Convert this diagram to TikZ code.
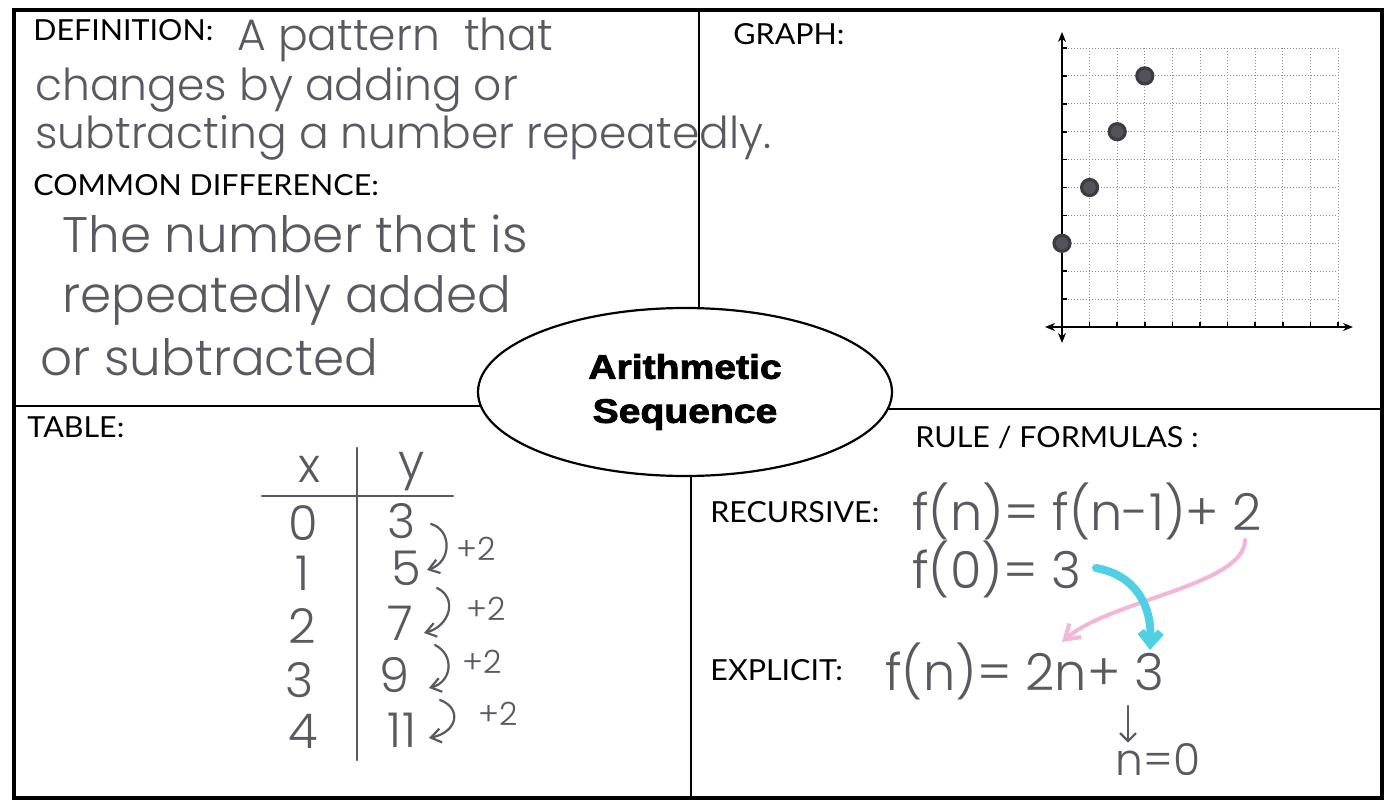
\documentclass[tikz,border=0pt]{standalone}
\usepackage{fontspec}
\usetikzlibrary{shapes.geometric,arrows.meta}
\newfontfamily\printfont{Lato}[FakeStretch=1.05]
\IfFontExistsTF{Poppins Light}{\newfontfamily\handfont{Poppins Light}}{\newfontfamily\handfont{Poppins}}
\newfontfamily\titlefont{Liberation Sans}[FakeStretch=1.15, BoldFeatures={FakeBold=2.4}]
\definecolor{handgray}{HTML}{5A5860}
\definecolor{gridgray}{HTML}{8E8E8E}
\definecolor{pinkpen}{HTML}{F4B6D6}
\definecolor{cyanpen}{HTML}{4FD0E4}
\definecolor{dotgray}{HTML}{3C3C42}
\begin{document}
\begin{tikzpicture}[x=0.5pt,y=-0.5pt,
  lbl/.style={font=\printfont\fontsize{14.5}{17}\selectfont, anchor=base west, inner sep=0pt, text=black},
  hand/.style={font=\handfont\fontsize{22}{26}\selectfont, anchor=base west, inner sep=0pt, text=handgray},
  handlarge/.style={font=\handfont\fontsize{25}{29}\selectfont, anchor=base west, inner sep=0pt, text=handgray},
  handbig/.style={font=\handfont\fontsize{25.5}{29}\selectfont, anchor=base west, inner sep=0pt, text=handgray},
  handsmall/.style={font=\handfont\fontsize{16}{18}\selectfont, anchor=base west, inner sep=0pt, text=handgray},
  tabval/.style={font=\handfont\fontsize{24}{28}\selectfont, anchor=base, inner sep=0pt, text=handgray},
  pen/.style={draw=handgray, line width=1.1pt, line cap=round, line join=round},
  frame/.style={draw=black, line width=2pt},
  divider/.style={draw=black, line width=1.1pt},
  gridline/.style={draw=gridgray, line width=0.5pt, densely dotted},
  axis/.style={draw=black, line width=0.9pt, {Stealth[length=5pt,width=4pt]}-{Stealth[length=5pt,width=4pt]}},
  gdot/.style={circle, fill=dotgray!88, draw=dotgray, minimum size=8pt, inner sep=0pt, line width=1.6pt},
]
\useasboundingbox (0,0) rectangle (1388,803);
\fill[white] (0,0) rectangle (1388,803);

% frame and dividers
\draw[frame] (14,10) rectangle (1382,798);
\coordinate (vtop) at (699,10);
\coordinate (vbot) at (691,798);
\coordinate (hl) at (14,406);
\coordinate (hr) at (1382,409);
\draw[divider] (vtop) -- (699,390);
\draw[divider] (691,390) -- (vbot);
\draw[divider] (hl) -- (685,406);
\draw[divider] (685,409) -- (hr);

% centre ellipse
\node[ellipse, draw=black, line width=1.1pt, fill=white, minimum width=207pt, minimum height=84pt, inner sep=0pt,
      font=\titlefont\bfseries\fontsize{17}{22}\selectfont, align=center] (title) at (685,392)
      {Arithmetic\\Sequence};

% DEFINITION quadrant
\node[lbl] (def) at (33,40) {DEFINITION:};
\node[hand] (d1) at (237,50) {A pattern \ that};
\node[hand] (d2) at (35,100) {changes by adding or};
\node[hand] (d3) at (35,148) {subtracting a number repeatedly.};
\node[lbl] (cd) at (33,195) {COMMON DIFFERENCE:};
\node[handlarge] (c1) at (62,252) {The number that is};
\node[handlarge] (c2) at (62,312) {repeatedly added};
\node[handlarge] (c3) at (40,375) {or subtracted};

% GRAPH quadrant
\node[lbl] (graph) at (733,45) {GRAPH:};
\foreach \i in {1,...,10} {
  \draw[gridline] ({1062+27.6*\i},48) -- ({1062+27.6*\i},327);
  \draw[gridline] (1062,{327-27.9*\i}) -- (1338,{327-27.9*\i});
  \draw[black, line width=0.8pt] ({1062+27.6*\i},327) -- ({1062+27.6*\i},322);
  \draw[black, line width=0.8pt] (1062,{327-27.9*\i}) -- (1067,{327-27.9*\i});
}
\coordinate (xl) at (1045,327);
\coordinate (xr) at (1353,327);
\coordinate (yb) at (1062,343);
\coordinate (yt) at (1062,32);
\draw[axis] (xl) -- (xr);
\draw[axis] (yb) -- (yt);
\node[gdot] (p0) at (1062,{327-27.9*3}) {};
\node[gdot] (p1) at ({1062+27.6},{327-27.9*5}) {};
\node[gdot] (p2) at ({1062+27.6*2},{327-27.9*7}) {};
\node[gdot] (p3) at ({1062+27.6*3},{327-27.9*9}) {};

% TABLE quadrant
\node[lbl] (table) at (27,437) {TABLE:};
\draw[pen] (262,496) -- (453,496);
\draw[pen] (357,448) -- (357,760);
\node[tabval] (hx) at (310,482) {x};
\node[tabval] (hy) at (412,478) {y};
\node[tabval] (x0) at (303,540) {0};
\node[tabval] (x1) at (303,590) {1};
\node[tabval] (x2) at (302,643) {2};
\node[tabval] (x3) at (300,697) {3};
\node[tabval] (x4) at (303,748) {4};
\node[tabval] (y0) at (402,538) {3};
\node[tabval] (y1) at (406,585) {5};
\node[tabval] (y2) at (400,640) {7};
\node[tabval] (y3) at (394,692) {9};
\node[tabval] (y4) at (402,747) {11};
\coordinate (a1s) at (431,524); \coordinate (a1e) at (427,570);
\coordinate (a2s) at (437,588); \coordinate (a2e) at (424,633);
\coordinate (a3s) at (435,645); \coordinate (a3e) at (429,688);
\coordinate (a4s) at (440,700); \coordinate (a4e) at (429,738);
\draw[pen, -{Straight Barb[length=5pt,width=7pt]}] (a1s) .. controls (452,530) and (452,562) .. (a1e);
\draw[pen, -{Straight Barb[length=5pt,width=7pt]}] (a2s) .. controls (458,598) and (450,626) .. (a2e);
\draw[pen, -{Straight Barb[length=5pt,width=7pt]}] (a3s) .. controls (455,655) and (452,682) .. (a3e);
\draw[pen, -{Straight Barb[length=5pt,width=7pt]}] (a4s) .. controls (462,708) and (458,732) .. (a4e);
\node[handsmall] (s1) at (456,560) {+2};
\node[handsmall] (s2) at (466,620) {+2};
\node[handsmall] (s3) at (462,673) {+2};
\node[handsmall] (s4) at (478,725) {+2};

% RULE quadrant
\node[lbl] (rule) at (915,447) {RULE / FORMULAS :};
\node[lbl] (rec) at (710,522) {RECURSIVE:};
\node[handbig] (f1) at (912,530) {f(n)= f(n-1)+ 2};
\node[handbig] (f0) at (912,588) {f(0)= 3};
\node[lbl] (exp) at (710,680) {EXPLICIT:};
\node[handbig] (fe) at (885,690) {f(n)= 2n+ 3};
\node[hand] (n0) at (1115,775) {n=0};
\coordinate (dtop) at (1128,706);
\draw[pen, -{Straight Barb[length=4pt]}] (dtop) -- (n0.north -| dtop);
\coordinate (pk1) at (1245,540);
\coordinate (pk2) at (1062,642);
\draw[pinkpen, line width=2pt, line cap=round, -{Straight Barb[length=7pt,width=9pt]}] (pk1) .. controls (1245,585) and (1110,600) .. (pk2);
\coordinate (cy1) at (1096,568);
\coordinate (cy2) at (1150,650);
\draw[cyanpen, line width=4pt, line cap=round, -{Straight Barb[length=6pt,width=10pt]}] (cy1) .. controls (1135,575) and (1152,605) .. (cy2);
\end{tikzpicture}
\end{document}
